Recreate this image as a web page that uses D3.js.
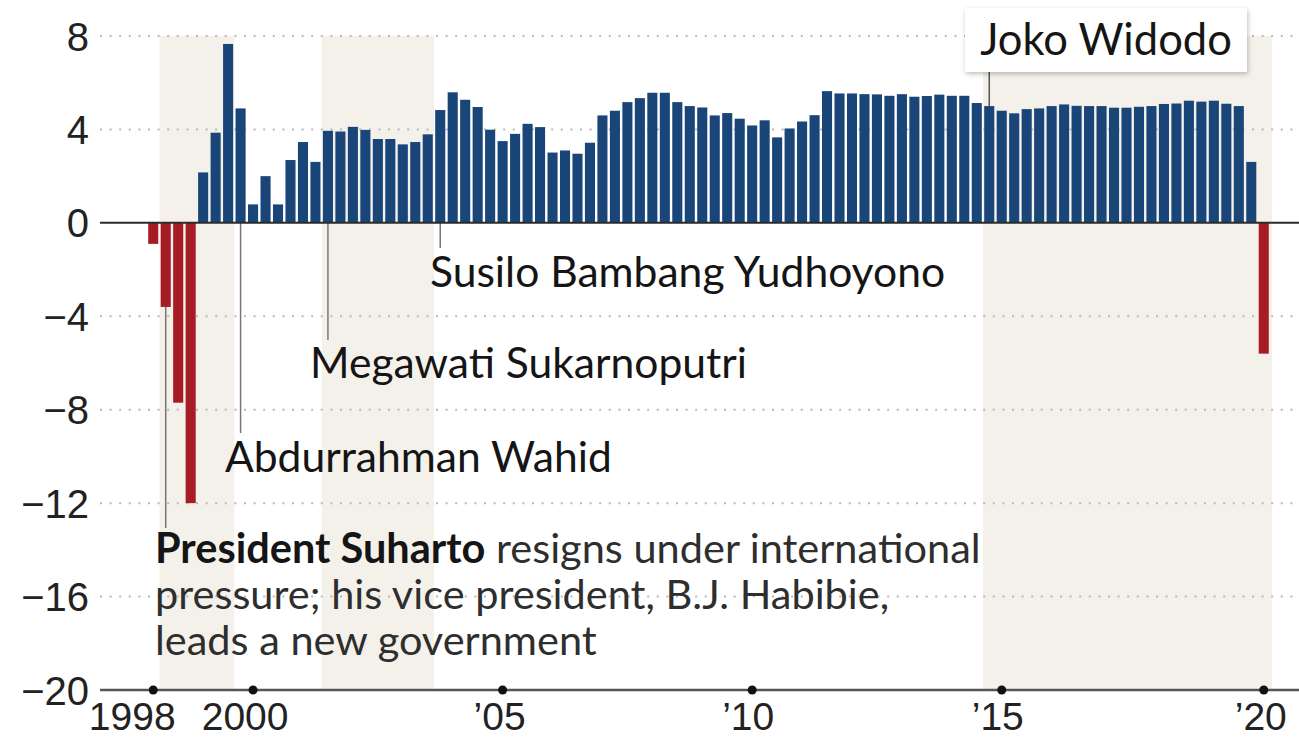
<!DOCTYPE html>
<html>
<head>
<meta charset="utf-8">
<script src="https://cdn.jsdelivr.net/npm/d3@7"></script>
<style>
  body { margin: 0; background: #fff; }
  svg text { font-family: Lato, "Noto Sans", sans-serif; }
  .axis text { font-family: "Liberation Sans Narrow", "Arial Narrow", "Liberation Sans", sans-serif; }
</style>
</head>
<body>
<div id="chart"></div>
<script>
// GDP growth, % change, by quarter (Q1..Q4 for each year)
const years = [1998, 1999, 2000, 2001, 2002, 2003, 2004, 2005, 2006, 2007, 2008,
  2009, 2010, 2011, 2012, 2013, 2014, 2015, 2016, 2017, 2018, 2019, 2020];
const growth = [
  [-0.9, -3.6, -7.7, -12.0],
  [2.16, 3.86, 7.66, 4.9],
  [0.79, 2.0, 0.79, 2.69],
  [3.46, 2.61, 3.94, 3.91],
  [4.11, 3.98, 3.59, 3.59],
  [3.36, 3.46, 3.79, 4.83],
  [5.59, 5.27, 4.96, 3.99],
  [3.5, 3.81, 4.24, 4.1],
  [3.01, 3.1, 2.96, 3.43],
  [4.6, 4.8, 5.17, 5.34],
  [5.57, 5.57, 5.17, 5.0],
  [4.94, 4.6, 4.7, 4.46],
  [4.17, 4.39, 3.66, 4.04],
  [4.34, 4.61, 5.64, 5.54],
  [5.54, 5.51, 5.5, 5.44],
  [5.51, 5.4, 5.43, 5.49],
  [5.44, 5.44, 5.13, 5.0],
  [4.8, 4.69, 4.87, 4.9],
  [5.0, 5.07, 5.01, 5.0],
  [5.0, 4.93, 4.93, 4.97],
  [5.0, 5.09, 5.11, 5.23],
  [5.19, 5.23, 5.1, 5.0],
  [2.61, -5.6],
];

const yTicks = [-20, -16, -12, -8, -4, 0, 4, 8];
const xTickKeys = ['1998 Q1', '2000 Q1', '2005 Q1', '2010 Q1', '2015 Q1', '2020 Q2'];
const xTickLabels = ['1998', '2000', '\u201905', '\u201910', '\u201915', '\u201920'];

// shaded presidencies (start quarter, end quarter)
const shadedFrom = ['1998 Q2', '2001 Q3', '2014 Q4'];
const shadedTo = ['1999 Q4', '2003 Q4', null];

const W = 1299, H = 747;
const svg = d3.select('#chart').append('svg')
  .attr('width', W)
  .attr('height', H);

const data = years.flatMap((yr, i) =>
  growth[i].map((v, q) => ({ key: `${yr} Q${q + 1}`, value: v })));

const x = d3.scaleBand()
  .domain(data.map(d => d.key))
  .range([147, 1270])
  .padding(0);

const y = d3.scaleLinear()
  .domain([-20, 8])
  .range([690, 36]);

const mid = k => x(k) + x.bandwidth() / 2;

// shading
svg.append('g')
  .selectAll('rect')
  .data(shadedFrom)
  .join('rect')
  .attr('x', d => x(d))
  .attr('width', (d, i) => (shadedTo[i] ? x(shadedTo[i]) : x.range()[1] + 2) - x(d))
  .attr('y', y(8))
  .attr('height', y(-20) - y(8))
  .attr('fill', '#f4f1ea');

// dotted gridlines
svg.append('g')
  .selectAll('line')
  .data(yTicks.filter(t => t !== 0 && t !== -20))
  .join('line')
  .attr('x1', 100)
  .attr('x2', W)
  .attr('y1', d => y(d))
  .attr('y2', d => y(d))
  .attr('stroke', '#b9b9b9')
  .attr('stroke-width', 2)
  .attr('stroke-dasharray', '2 7.6');

// leader lines (drawn behind bars)
const leaders = [
  { key: '1998 Q2', y2: 528 },
  { key: '1999 Q4', y2: 433 },
  { key: '2001 Q3', y2: 340 },
  { key: '2003 Q4', y2: 248 },
];
svg.append('g')
  .selectAll('line')
  .data(leaders)
  .join('line')
  .attr('x1', d => mid(d.key))
  .attr('x2', d => mid(d.key))
  .attr('y1', y(0))
  .attr('y2', d => d.y2)
  .attr('stroke', '#777')
  .attr('stroke-width', 1.5);

// bars
svg.append('g')
  .selectAll('rect')
  .data(data)
  .join('rect')
  .attr('x', d => x(d.key) + 1.2)
  .attr('width', x.bandwidth() - 2.4)
  .attr('y', d => y(Math.max(0, d.value)))
  .attr('height', d => Math.abs(y(d.value) - y(0)))
  .attr('fill', d => d.value < 0 ? '#a61c24' : '#1a4579');

// zero line
svg.append('line')
  .attr('x1', 100).attr('x2', W)
  .attr('y1', y(0)).attr('y2', y(0))
  .attr('stroke', '#2b2b2b')
  .attr('stroke-width', 2);

// y axis labels
const yAxis = svg.append('g')
  .attr('class', 'axis')
  .attr('transform', 'translate(89,0)')
  .call(d3.axisLeft(y).tickValues(yTicks).tickSize(0).tickPadding(0));
yAxis.select('.domain').remove();
yAxis.selectAll('text')
  .attr('font-size', 40)
  .attr('fill', '#222')
  .attr('dy', '0.35em');

// x axis
svg.append('line')
  .attr('x1', 100).attr('x2', W)
  .attr('y1', y(-20)).attr('y2', y(-20))
  .attr('stroke', '#555')
  .attr('stroke-width', 2.5);

const xAxis = svg.append('g')
  .attr('class', 'axis')
  .attr('transform', `translate(0,${y(-20)})`)
  .call(d3.axisBottom(x)
    .tickValues(xTickKeys)
    .tickFormat((d, i) => xTickLabels[i])
    .tickSize(0)
    .tickPadding(10));
xAxis.select('.domain').remove();
xAxis.selectAll('.tick').append('circle')
  .attr('r', 4.5)
  .attr('fill', '#111');
xAxis.selectAll('text')
  .attr('font-size', 39)
  .attr('fill', '#222')
  .attr('dy', '0.78em')
  .attr('dx', (d, i) => [-21, -8, -3, -4, -4, -3][i]);

// annotations
const note = svg.append('g').attr('fill', '#151515').attr('font-size', 42.6);
note.append('text').attr('x', 430).attr('y', 287).text('Susilo Bambang Yudhoyono');
note.append('text').attr('x', 310).attr('y', 378).text('Megawati Sukarnoputri');
note.append('text').attr('x', 225).attr('y', 472).text('Abdurrahman Wahid');

const para = note.append('g').attr('font-size', 41.5);
const first = para.append('text').attr('x', 155).attr('y', 563);
first.append('tspan').attr('font-weight', 700).text('President Suharto');
first.append('tspan').attr('fill', '#2e2e2e').text(' resigns under international');
para.append('text').attr('x', 155).attr('y', 609).attr('fill', '#2e2e2e')
  .text('pressure; his vice president, B.J. Habibie,');
para.append('text').attr('x', 155).attr('y', 655).attr('fill', '#2e2e2e')
  .text('leads a new government');

// Joko Widodo box
const defs = svg.append('defs');
defs.append('filter').attr('id', 'shadow')
  .attr('x', '-10%').attr('y', '-20%').attr('width', '130%').attr('height', '150%')
  .append('feDropShadow')
  .attr('dx', 1).attr('dy', 2).attr('stdDeviation', 2.5)
  .attr('flood-color', '#000').attr('flood-opacity', 0.25);

svg.append('line')
  .attr('x1', mid('2014 Q4')).attr('x2', mid('2014 Q4'))
  .attr('y1', 72).attr('y2', y(5.0))
  .attr('stroke', '#555')
  .attr('stroke-width', 1.5);
svg.append('rect')
  .attr('x', 965).attr('y', 8)
  .attr('width', 282).attr('height', 64)
  .attr('fill', '#fff')
  .attr('filter', 'url(#shadow)');
svg.append('text')
  .attr('x', 1106).attr('y', 55)
  .attr('text-anchor', 'middle')
  .attr('font-size', 43.5)
  .attr('fill', '#151515')
  .text('Joko Widodo');
</script>
</body>
</html>
